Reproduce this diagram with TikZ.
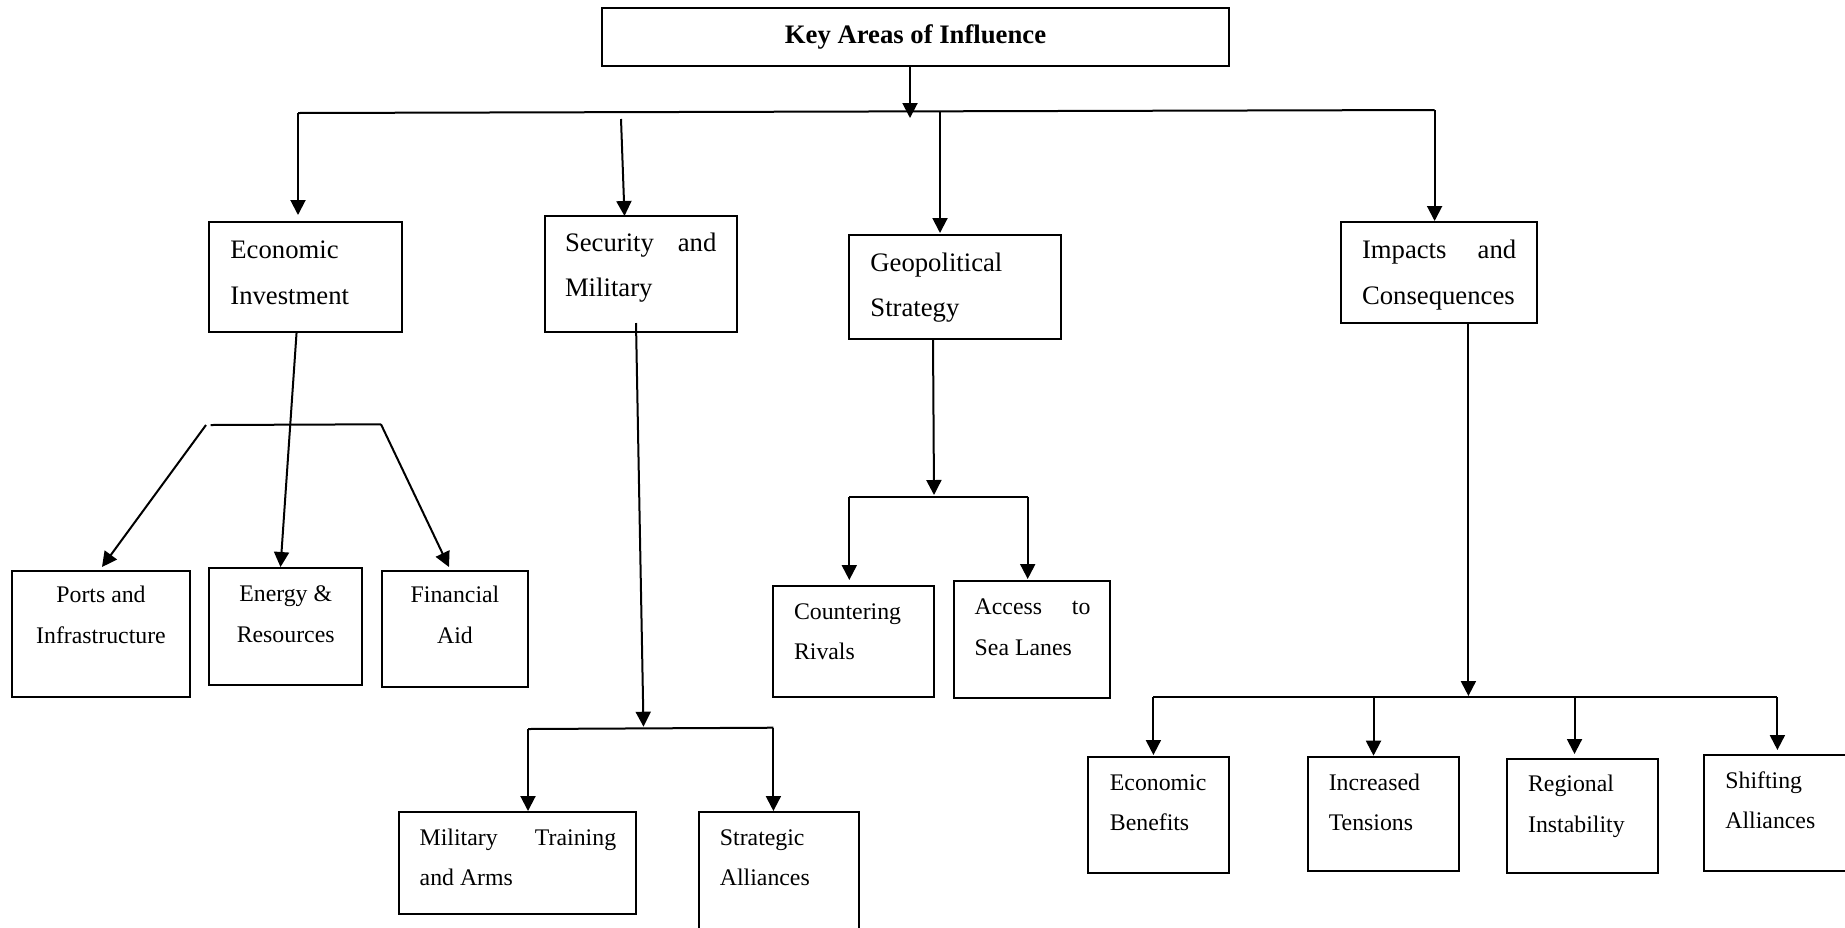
\documentclass[tikz,border=0pt]{standalone}
\usepackage{fontspec}
\setmainfont{Liberation Serif}
\usetikzlibrary{arrows.meta,fit}
\begin{document}
\begin{tikzpicture}[x=0.5pt,y=-0.5pt,
  bx/.style={draw,line width=1pt,inner sep=0pt,outer sep=0pt,rectangle},
  conn/.style={line width=1pt},
  arrw/.style={line width=1pt,-{Triangle[length=7.5pt,width=7.5pt]}},
  up/.style={inner sep=0pt,font=\fontsize{13.35pt}{16pt}\selectfont},
  lo/.style={inner sep=0pt,font=\fontsize{11.9pt}{14pt}\selectfont},
  ttl/.style={inner sep=0pt,font=\fontsize{13.35pt}{16pt}\selectfont\bfseries}]
\useasboundingbox (0,0) rectangle (1845,927);

% boxes
\node[bx,fit={(602,8) (1229,66)}] (title) {};
\node[bx,fit={(209,222) (401.5,332)}] (econ) {};
\node[bx,fit={(544.5,216) (736.6,332)}] (sec) {};
\node[bx,fit={(849,235) (1061,339)}] (geo) {};
\node[bx,fit={(1341,222) (1536.6,323)}] (imp) {};
\node[bx,fit={(12,570.7) (190,697)}] (ports) {};
\node[bx,fit={(209,568) (362,685)}] (energy) {};
\node[bx,fit={(382,571) (528,687)}] (fin) {};
\node[bx,fit={(398.6,811.7) (636,914)}] (milit) {};
\node[bx,fit={(698.7,811.7) (859.4,940)}] (strat) {};
\node[bx,fit={(773.4,585.7) (934,697)}] (count) {};
\node[bx,fit={(954,581) (1109.5,697.7)}] (access) {};
\node[bx,fit={(1088,756.7) (1228.8,873)}] (eb) {};
\node[bx,fit={(1307.6,757) (1459,870.7)}] (it) {};
\node[bx,fit={(1507,759) (1657.6,873)}] (ri) {};
\node[bx,fit={(1703.8,754.7) (1860,870.7)}] (sa) {};

% texts
\node[ttl] (titleT) at (title.center) {Key Areas of Influence};
\node[up,anchor=base west] (econT1) at (230,258.3) {Economic};
\node[up,anchor=base west] (econT2) at (230,304) {Investment};
\node[up,anchor=base west] (secT1) at (564.6,251.7) {\hbox to 75.7pt{Security\hfill and}};
\node[up,anchor=base west] (secT2) at (564.6,296.7) {Military};
\node[up,anchor=base west] (geoT1) at (870,271.7) {Geopolitical};
\node[up,anchor=base west] (geoT2) at (870,316.7) {Strategy};
\node[up,anchor=base west] (impT1) at (1361.6,258.3) {\hbox to 77.1pt{Impacts\hfill and}};
\node[up,anchor=base west] (impT2) at (1361.6,304) {Consequences};

\node[lo,anchor=base] (portsT1) at (101,602.7) {Ports and};
\node[lo,anchor=base] (portsT2) at (101,643.3) {Infrastructure};
\node[lo,anchor=base] (energyT1) at (285.7,601.7) {Energy \&};
\node[lo,anchor=base] (energyT2) at (285.7,642.7) {Resources};
\node[lo,anchor=base] (finT1) at (455,602.7) {Financial};
\node[lo,anchor=base] (finT2) at (455,643.3) {Aid};
\node[lo,anchor=base west] (militT1) at (419.3,845.7) {\hbox to 98.2pt{Military\hfill Training}};
\node[lo,anchor=base west] (militT2) at (419.3,885.7) {and Arms};
\node[lo,anchor=base west] (stratT1) at (719.5,845) {Strategic};
\node[lo,anchor=base west] (stratT2) at (719.5,885.7) {Alliances};
\node[lo,anchor=base west] (countT1) at (793.6,619.3) {Countering};
\node[lo,anchor=base west] (countT2) at (793.6,659) {Rivals};
\node[lo,anchor=base west] (accessT1) at (974.3,614) {\hbox to 57.9pt{Access\hfill to}};
\node[lo,anchor=base west] (accessT2) at (974.3,655) {Sea Lanes};
\node[lo,anchor=base west] (ebT1) at (1109.5,790) {Economic};
\node[lo,anchor=base west] (ebT2) at (1109.5,830.7) {Benefits};
\node[lo,anchor=base west] (itT1) at (1328.4,790) {Increased};
\node[lo,anchor=base west] (itT2) at (1328.4,830.7) {Tensions};
\node[lo,anchor=base west] (riT1) at (1527.7,791.7) {Regional};
\node[lo,anchor=base west] (riT2) at (1527.7,832.7) {Instability};
\node[lo,anchor=base west] (saT1) at (1725,788) {Shifting};
\node[lo,anchor=base west] (saT2) at (1725,828) {Alliances};

% junction coordinates
\coordinate (tS) at (910,66);
\coordinate (tTip) at (910,118);
\coordinate (tl) at (298,113);
\coordinate (tr) at (1434.6,110);
\coordinate (econTip) at (298,215);
\coordinate (secStart) at (621,119);
\coordinate (secTip) at (624.5,216);
\coordinate (geoStart) at (940,111.3);
\coordinate (geoTip) at (940,233);
\coordinate (impTip) at (1434.6,221);

\coordinate (eS) at (296.6,332);
\coordinate (energyTip) at (280.5,567);
\coordinate (ebl) at (210.6,425);
\coordinate (ebd) at (206,425);
\coordinate (ebr) at (381,424.3);
\coordinate (portsTip) at (102,567);
\coordinate (finTip) at (449,567);

\coordinate (sS) at (636,323);
\coordinate (sTip) at (643.5,726.7);
\coordinate (sbl) at (528,729);
\coordinate (sbr) at (773.4,727.7);
\coordinate (militTip) at (528,811);
\coordinate (stratTip) at (773.4,811);

\coordinate (gS) at (933,339);
\coordinate (gTip) at (934,495);
\coordinate (gbl) at (849.3,496.7);
\coordinate (gbr) at (1027.7,496.7);
\coordinate (countTip) at (849.3,580);
\coordinate (accessTip) at (1027.7,579);

\coordinate (iS) at (1468.4,323);
\coordinate (iTip) at (1468.4,696);
\coordinate (ib1) at (1153.4,697);
\coordinate (ib2) at (1373.5,697);
\coordinate (ib3) at (1574.5,697);
\coordinate (ib4) at (1777.4,697);
\coordinate (ebTip) at (1153.4,755);
\coordinate (itTip) at (1373.5,755.7);
\coordinate (riTip) at (1574.5,754);
\coordinate (saTip) at (1777.4,750);

% top level connectors
\draw[arrw] (tS) -- (tTip);
\draw[conn] (tl) -- (tr);
\draw[arrw] (tl) -- (econTip);
\draw[arrw] (secStart) -- (secTip);
\draw[arrw] (geoStart) -- (geoTip);
\draw[arrw] (tr) -- (impTip);

% economic subtree
\draw[arrw] (eS) -- (energyTip);
\draw[conn] (ebl) -- (ebr);
\draw[arrw] (ebd) -- (portsTip);
\draw[arrw] (ebr) -- (finTip);

% security subtree
\draw[arrw] (sS) -- (sTip);
\draw[conn] (sbl) -- (sbr);
\draw[arrw] (sbl) -- (militTip);
\draw[arrw] (sbr) -- (stratTip);

% geopolitical subtree
\draw[arrw] (gS) -- (gTip);
\draw[conn] (gbl) -- (gbr);
\draw[arrw] (gbl) -- (countTip);
\draw[arrw] (gbr) -- (accessTip);

% impacts subtree
\draw[arrw] (iS) -- (iTip);
\draw[conn] (ib1) -- (ib4);
\draw[arrw] (ib1) -- (ebTip);
\draw[arrw] (ib2) -- (itTip);
\draw[arrw] (ib3) -- (riTip);
\draw[arrw] (ib4) -- (saTip);
\end{tikzpicture}
\end{document}
